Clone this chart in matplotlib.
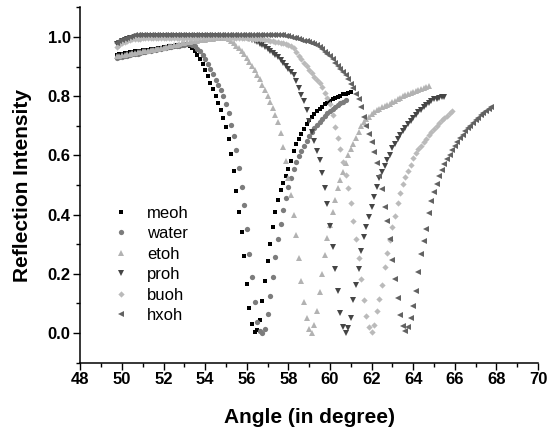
import numpy as np
import matplotlib
matplotlib.use("Agg")
import matplotlib.pyplot as plt
from matplotlib.ticker import MultipleLocator

plt.rcParams['font.family'] = ['Liberation Sans', 'DejaVu Sans']

# scan settings (angle in degree)
scan_start = 49.75
scan_step = 0.125

meoh = [0.940,0.942,0.944,0.945,0.947,0.948,0.950,0.951,0.952,0.953,
        0.955,0.956,0.957,0.959,0.960,0.961,0.963,0.964,0.965,0.966,
        0.968,0.969,0.970,0.972,0.973,0.974,0.975,0.973,0.968,0.962,
        0.951,0.938,0.924,0.907,0.889,0.867,0.846,0.825,0.799,0.776,
        0.752,0.726,0.695,0.654,0.605,0.548,0.481,0.410,0.340,0.261,
        0.166,0.085,0.030,0.003,0.010,0.045,0.110,0.176,0.245,0.302,
        0.358,0.410,0.451,0.482,0.508,0.530,0.554,0.580,0.615,0.638,
        0.657,0.673,0.690,0.705,0.718,0.730,0.741,0.750,0.758,0.765,
        0.772,0.778,0.784,0.789,0.794,0.798,0.802,0.806,0.809,0.812,
        0.815]

water = [0.930,0.932,0.934,0.936,0.937,0.939,0.941,0.943,0.944,0.946,
         0.948,0.950,0.951,0.953,0.955,0.957,0.958,0.960,0.962,0.963,
         0.965,0.967,0.968,0.970,0.971,0.973,0.974,0.975,0.975,0.973,
         0.968,0.961,0.951,0.939,0.925,0.909,0.892,0.874,0.856,0.839,
         0.821,0.799,0.773,0.742,0.704,0.667,0.618,0.559,0.495,0.432,
         0.351,0.268,0.190,0.105,0.038,0.008,0.000,0.015,0.066,0.126,
         0.189,0.256,0.318,0.369,0.415,0.456,0.492,0.525,0.555,0.578,
         0.598,0.616,0.633,0.649,0.664,0.678,0.691,0.703,0.714,0.724,
         0.733,0.742,0.750,0.757,0.764,0.770,0.776,0.781,0.786]

etoh = [0.935,0.937,0.939,0.940,0.942,0.943,0.945,0.946,0.948,0.949,
        0.951,0.952,0.954,0.955,0.957,0.958,0.960,0.962,0.964,0.966,
        0.968,0.970,0.972,0.974,0.976,0.978,0.980,0.982,0.983,0.985,
        0.986,0.988,0.989,0.990,0.991,0.992,0.993,0.994,0.995,0.995,
        0.996,0.996,0.995,0.992,0.988,0.980,0.971,0.962,0.952,0.941,
        0.930,0.917,0.903,0.889,0.873,0.857,0.838,0.820,0.801,0.781,
        0.760,0.738,0.712,0.675,0.630,0.580,0.525,0.465,0.400,0.330,
        0.252,0.175,0.106,0.050,0.014,0.000,0.027,0.075,0.138,0.198,
        0.265,0.320,0.364,0.410,0.450,0.490,0.517,0.545,0.575,0.600,
        0.620,0.640,0.660,0.680,0.700,0.712,0.722,0.731,0.740,0.746,
        0.752,0.757,0.762,0.767,0.771,0.775,0.780,0.785,0.790,0.795,
        0.799,0.803,0.807,0.811,0.815,0.818,0.821,0.824,0.828,0.831,
        0.834]

proh = [0.975,0.980,0.985,0.989,0.993,0.996,0.998,0.999,1.000,1.001,
        1.002,1.002,1.003,1.003,1.003,1.004,1.004,1.004,1.004,1.004,
        1.004,1.004,1.004,1.004,1.004,1.004,1.004,1.003,1.003,1.003,
        1.003,1.003,1.003,1.003,1.002,1.002,1.002,1.002,1.002,1.001,
        1.001,1.001,1.001,1.000,1.000,1.000,0.999,0.999,0.999,0.998,
        0.997,0.994,0.990,0.986,0.982,0.977,0.972,0.966,0.960,0.954,
        0.947,0.940,0.932,0.923,0.913,0.903,0.893,0.882,0.870,0.850,
        0.826,0.803,0.783,0.752,0.716,0.680,0.648,0.615,0.585,0.540,
        0.490,0.437,0.362,0.290,0.218,0.142,0.068,0.022,0.000,0.018,
        0.052,0.112,0.162,0.215,0.278,0.325,0.357,0.393,0.425,0.460,
        0.495,0.523,0.543,0.565,0.585,0.603,0.625,0.640,0.655,0.668,
        0.681,0.693,0.705,0.716,0.727,0.737,0.746,0.755,0.763,0.771,
        0.778,0.784,0.789,0.792,0.795,0.797,0.798]

buoh = [0.965,0.972,0.978,0.983,0.987,0.990,0.992,0.993,0.994,0.994,
        0.995,0.995,0.995,0.996,0.996,0.996,0.996,0.997,0.997,0.997,
        0.997,0.997,0.997,0.998,0.998,0.998,0.998,0.998,0.998,0.998,
        0.998,0.998,0.999,0.999,0.999,0.999,0.999,0.999,0.999,0.999,
        0.999,0.999,0.998,0.998,0.998,0.997,0.997,0.997,0.996,0.996,
        0.995,0.995,0.994,0.994,0.993,0.993,0.992,0.991,0.990,0.988,
        0.986,0.984,0.982,0.980,0.978,0.976,0.973,0.969,0.962,0.949,
        0.935,0.924,0.912,0.901,0.890,0.878,0.866,0.855,0.843,0.830,
        0.812,0.795,0.775,0.735,0.697,0.660,0.620,0.578,0.535,0.490,
        0.440,0.378,0.318,0.252,0.182,0.113,0.058,0.020,0.004,0.028,
        0.076,0.114,0.163,0.222,0.272,0.314,0.357,0.397,0.440,0.473,
        0.504,0.527,0.547,0.569,0.592,0.607,0.620,0.632,0.645,0.657,
        0.670,0.680,0.690,0.700,0.710,0.718,0.726,0.734,0.742,0.749]

hxoh = [0.980,0.985,0.990,0.994,0.998,1.001,1.003,1.005,1.006,1.006,
        1.007,1.007,1.007,1.007,1.008,1.008,1.008,1.008,1.008,1.008,
        1.008,1.008,1.008,1.008,1.008,1.008,1.008,1.008,1.008,1.008,
        1.008,1.008,1.008,1.008,1.008,1.008,1.008,1.008,1.008,1.008,
        1.008,1.008,1.008,1.008,1.008,1.008,1.008,1.008,1.008,1.008,
        1.008,1.008,1.008,1.008,1.008,1.008,1.008,1.008,1.008,1.008,
        1.008,1.008,1.008,1.007,1.006,1.004,1.002,1.000,0.998,0.995,
        0.993,0.990,0.988,0.985,0.983,0.980,0.977,0.972,0.965,0.958,
        0.950,0.943,0.935,0.924,0.913,0.903,0.893,0.883,0.872,0.858,
        0.842,0.826,0.808,0.789,0.762,0.730,0.700,0.672,0.645,0.612,
        0.575,0.530,0.485,0.427,0.380,0.318,0.248,0.182,0.118,0.062,
        0.025,0.006,0.022,0.052,0.090,0.142,0.205,0.268,0.310,0.352,
        0.405,0.446,0.475,0.505,0.530,0.550,0.570,0.588,0.603,0.618,
        0.632,0.645,0.658,0.670,0.681,0.691,0.701,0.710,0.719,0.728,
        0.736,0.744,0.751,0.757,0.763]

labels = ["meoh", "water", "etoh", "proh", "buoh", "hxoh"]
series = [meoh, water, etoh, proh, buoh, hxoh]
markers = ["s", "o", "^", "v", "D", "<"]
sizes = [3.4, 3.8, 4.0, 4.0, 3.2, 4.0]
colors = ["#000000", "#7c7c7c", "#b2b2b2", "#454545", "#bababa", "#626262"]

fig = plt.figure(figsize=(5.59, 4.32), dpi=100)
ax = fig.add_axes([0.1438, 0.1604, 0.8186, 0.8226])

for lab, ys, mk, ms, col in zip(labels, series, markers, sizes, colors):
    ys = np.array(ys)
    xs = scan_start + scan_step * np.arange(len(ys))
    ax.plot(xs, ys, linestyle="none", marker=mk, markersize=ms,
            markerfacecolor=col, markeredgewidth=0, color=col, label=lab)

ax.set_xlim(48, 70)
ax.set_ylim(-0.1, 1.1)
ax.xaxis.set_major_locator(MultipleLocator(2))
ax.xaxis.set_minor_locator(MultipleLocator(1))
ax.yaxis.set_major_locator(MultipleLocator(0.2))
ax.yaxis.set_minor_locator(MultipleLocator(0.1))
ax.set_yticks([0.0, 0.2, 0.4, 0.6, 0.8, 1.0])
ax.set_yticklabels(["0.0", "0.2", "0.4", "0.6", "0.8", "1.0"])

for s in ["top", "right"]:
    ax.spines[s].set_visible(False)
for s in ["left", "bottom"]:
    ax.spines[s].set_linewidth(1.1)

ax.tick_params(which="major", direction="out", length=5, width=1.0, labelsize=12, pad=2)
ax.tick_params(which="minor", direction="out", length=3, width=1.0)
for t in ax.get_xticklabels() + ax.get_yticklabels():
    t.set_fontweight("bold")

ax.set_xlabel("Angle (in degree)", fontsize=15, fontweight="bold", labelpad=15)
ax.set_ylabel("Reflection Intensity", fontsize=15, fontweight="bold", labelpad=11)

leg = ax.legend(loc="upper left", bbox_to_anchor=(0.055, 0.461), frameon=False,
                fontsize=12, handlelength=1.0, handletextpad=1.1,
                labelspacing=0.33, numpoints=1, borderaxespad=0)

fig.savefig("out.png", dpi=100)
